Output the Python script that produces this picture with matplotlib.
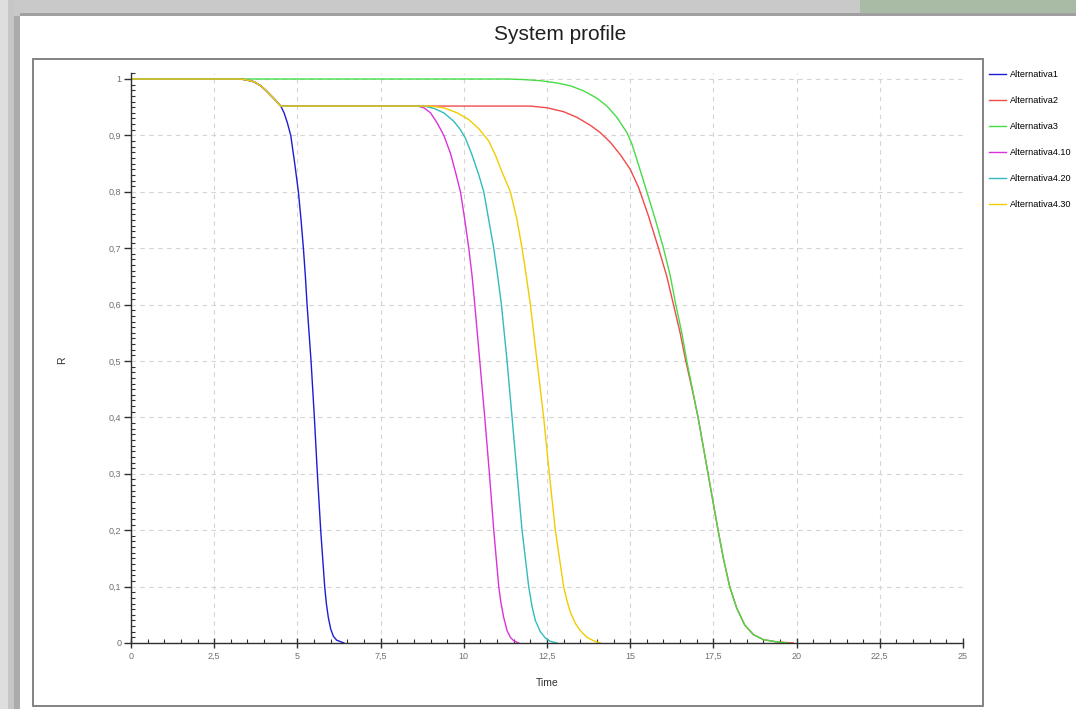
import numpy as np
import matplotlib
matplotlib.use('Agg')
import matplotlib.pyplot as plt
from matplotlib.patches import Rectangle
from matplotlib.ticker import MultipleLocator

plt.rcParams['font.family'] = ['Liberation Sans', 'DejaVu Sans']

# (time, reliability R).
shoulder_t = [0.0, 3.3, 3.5, 3.7, 3.9, 4.05, 4.2, 4.35, 4.45, 4.5]
shoulder_r = [1.0, 1.0, 0.998, 0.995, 0.988, 0.98, 0.971, 0.962, 0.955, 0.952]

alt1_t = shoulder_t + [4.6, 4.7, 4.8, 4.92, 5.03, 5.11, 5.18, 5.24, 5.29, 5.41,
                       5.51, 5.6, 5.7, 5.82, 5.87, 5.93, 6.0, 6.08, 6.18, 6.4]
alt1_r = shoulder_r + [0.94, 0.922, 0.9, 0.85, 0.8, 0.75, 0.7, 0.65, 0.6, 0.5,
                       0.4, 0.3, 0.2, 0.1, 0.07, 0.045, 0.025, 0.012, 0.005, 0.0]

alt2_t = shoulder_t + [12.0, 12.5, 13.0, 13.4, 13.8, 14.1, 14.4, 14.7, 15.0,
                       15.25, 15.55, 15.85, 16.1, 16.3, 16.5, 16.67, 16.86,
                       17.04, 17.19, 17.34, 17.49, 17.64, 17.8, 17.99, 18.2,
                       18.44, 18.7, 19.0, 19.4, 19.9]
alt2_r = shoulder_r + [0.952, 0.949, 0.942, 0.932, 0.918, 0.905, 0.888, 0.866, 0.84,
                       0.808, 0.757, 0.7, 0.65, 0.6, 0.55, 0.5, 0.45,
                       0.4, 0.35, 0.3, 0.25, 0.2, 0.15, 0.1, 0.062,
                       0.032, 0.015, 0.006, 0.002, 0.0]

alt3_t = [0.0, 11.3, 11.8, 12.3, 12.8, 13.2, 13.6, 14.0, 14.3, 14.6, 14.9,
          15.05, 15.25, 15.5, 15.75, 16.0, 16.2, 16.37, 16.55, 16.7, 16.87, 17.04,
          17.19, 17.34, 17.49, 17.64, 17.8, 17.99, 18.2, 18.44, 18.7, 19.0,
          19.4, 19.74]
alt3_r = [1.0, 1.0, 0.999, 0.997, 0.993, 0.988, 0.979, 0.966, 0.952, 0.932, 0.905,
          0.885, 0.848, 0.8, 0.752, 0.7, 0.652, 0.6, 0.55, 0.5, 0.45, 0.4,
          0.35, 0.3, 0.25, 0.2, 0.15, 0.1, 0.062, 0.032, 0.015, 0.006,
          0.002, 0.0]

alt410_t = shoulder_t + [8.6, 8.8, 9.0, 9.2, 9.4, 9.6, 9.75, 9.9, 10.03, 10.15,
                         10.25, 10.33, 10.48, 10.63, 10.77, 10.9, 11.05, 11.12,
                         11.2, 11.3, 11.4, 11.5, 11.65]
alt410_r = shoulder_r + [0.952, 0.949, 0.94, 0.922, 0.9, 0.868, 0.835, 0.8, 0.75, 0.7,
                         0.65, 0.6, 0.5, 0.4, 0.3, 0.2, 0.1, 0.07,
                         0.045, 0.022, 0.01, 0.004, 0.0]

alt420_t = shoulder_t + [8.8, 9.1, 9.4, 9.7, 9.9, 10.05, 10.25, 10.45, 10.6,
                         10.75, 10.9, 11.02, 11.13, 11.3, 11.45, 11.6, 11.75,
                         11.95, 12.05, 12.15, 12.3, 12.45, 12.6, 12.8]
alt420_r = shoulder_r + [0.952, 0.948, 0.94, 0.925, 0.91, 0.895, 0.865, 0.83, 0.8,
                         0.75, 0.7, 0.65, 0.6, 0.5, 0.4, 0.3, 0.2,
                         0.1, 0.065, 0.04, 0.02, 0.009, 0.003, 0.0]

alt430_t = shoulder_t + [9.0, 9.4, 9.8, 10.15, 10.45, 10.75, 10.95, 11.15, 11.4,
                         11.6, 11.75, 11.88, 12.0, 12.2, 12.4, 12.57, 12.75,
                         13.0, 13.1, 13.2, 13.35, 13.5, 13.7, 13.9, 14.1]
alt430_r = shoulder_r + [0.952, 0.949, 0.94, 0.928, 0.912, 0.89, 0.865, 0.835, 0.8,
                         0.75, 0.7, 0.65, 0.6, 0.5, 0.4, 0.3, 0.2,
                         0.1, 0.075, 0.055, 0.035, 0.022, 0.01, 0.004, 0.0]

series_names = ['Alternativa1', 'Alternativa2', 'Alternativa3',
                'Alternativa4.10', 'Alternativa4.20', 'Alternativa4.30']
series_t = [alt1_t, alt2_t, alt3_t, alt410_t, alt420_t, alt430_t]
series_r = [alt1_r, alt2_r, alt3_r, alt410_r, alt420_r, alt430_r]
colors = ['#1c1cd4', '#f04a4a', '#46dc46', '#dc32dc', '#30bcbc', '#f2cc00']

x_ticks = [0, 2.5, 5, 7.5, 10, 12.5, 15, 17.5, 20, 22.5, 25]
x_labels = ['0', '2,5', '5', '7,5', '10', '12,5', '15', '17,5', '20', '22,5', '25']
y_ticks = [0, 0.1, 0.2, 0.3, 0.4, 0.5, 0.6, 0.7, 0.8, 0.9, 1.0]
y_labels = ['0', '0,1', '0,2', '0,3', '0,4', '0,5', '0,6', '0,7', '0,8', '0,9', '1']

W, H = 1076, 709


def px_box(x0, y0, x1, y1):
    """pixel box (top-left origin) -> figure fraction rect"""
    return (x0 / W, 1 - y1 / H, (x1 - x0) / W, (y1 - y0) / H)


fig = plt.figure(figsize=(W / 100, H / 100), dpi=100, facecolor='white')

# screenshot bevel around the panel
for box, col in [((0, 0, W, 16), '#c9c9c9'), ((860, 0, W, 16), '#a9bba4'),
                 ((0, 0, 8, H), '#dedede'), ((8, 0, 14, H), '#c6c6c6'),
                 ((14, 16, 20, H), '#ababab'), ((20, 13, W, 16), '#a0a0a0')]:
    l, b, w, h = px_box(*box)
    fig.patches.append(Rectangle((l, b), w, h, transform=fig.transFigure,
                                 facecolor=col, edgecolor='none', zorder=0))

# chart frame
l, b, w, h = px_box(33, 59, 983, 706)
fig.patches.append(Rectangle((l, b), w, h, transform=fig.transFigure,
                             facecolor='none', edgecolor='#7a7a7a', lw=1.3, zorder=1))

fig.text(560 / W, 1 - 34 / H, 'System profile', ha='center', va='center',
         fontsize=15, color='#202020')

ymax = 1.01
top_px = 79 - (ymax - 1.0) * 564
ax = fig.add_axes(px_box(131, top_px, 963, 643))
ax.set_xlim(0, 25)
ax.set_ylim(0, ymax)

lines = []
for t, r, c, name in zip(series_t, series_r, colors, series_names):
    ln, = ax.plot(t, r, color=c, lw=1.0, label=name, solid_joinstyle='round')
    lines.append(ln)

ax.set_xticks(x_ticks)
ax.set_xticklabels(x_labels)
ax.set_yticks(y_ticks)
ax.set_yticklabels(y_labels)
ax.xaxis.set_minor_locator(MultipleLocator(0.5))
ax.yaxis.set_minor_locator(MultipleLocator(0.01))
ax.tick_params(axis='both', which='major', labelsize=6.5, labelcolor='#707070',
               color='#303030', width=1.0)
ax.tick_params(axis='x', which='major', direction='inout', length=7, pad=3)
ax.tick_params(axis='y', which='major', direction='out', length=5, pad=2)
ax.tick_params(axis='both', which='minor', direction='in', length=3,
               color='#303030', width=0.8)

for s in ['top', 'right']:
    ax.spines[s].set_visible(False)
for s in ['left', 'bottom']:
    ax.spines[s].set_color('#303030')
    ax.spines[s].set_linewidth(1.0)

ax.grid(True, which='major', color='#d4d4d4', lw=0.8, linestyle=(0, (4, 4)))
ax.set_axisbelow(True)

fig.text(547 / W, 1 - 683 / H, 'Time', ha='center', va='center',
         fontsize=7.5, color='#303030')
fig.text(62 / W, 1 - 360 / H, 'R', ha='center', va='center', rotation=90,
         fontsize=7.5, color='#303030')

fig.legend(handles=lines, loc='upper left',
           bbox_to_anchor=(989 / W, 1 - 70 / H), frameon=False,
           fontsize=6.6, handlelength=1.8, handletextpad=0.45,
           labelspacing=1.85, borderaxespad=0, borderpad=0)

fig.savefig('out.png', dpi=100)
